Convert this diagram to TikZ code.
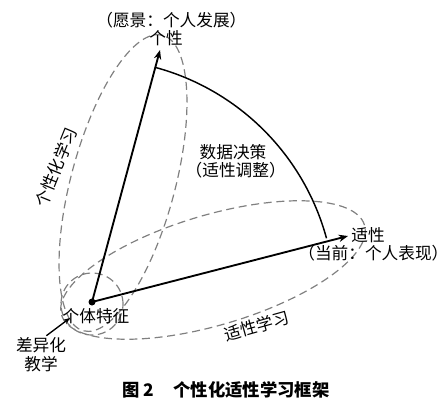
\documentclass[tikz,border=0pt]{standalone}
\usepackage{fontspec}
\newfontfamily\cjk{Noto Sans CJK SC}
\usepackage{tikz}
\usetikzlibrary{positioning}
\usetikzlibrary{arrows.meta}

\begin{document}
\begin{tikzpicture}[x=0.75pt,y=0.75pt,
  quan/.style={draw=gray,line width=0.9pt,dash pattern=on 6pt off 3.5pt},
  jt/.style={-{Stealth[length=7pt,width=5.5pt]},line width=1.4pt},
  wz/.style={font=\cjk\fontsize{12.5}{14}\selectfont,inner sep=1pt},
  kh/.style={font=\cjk\fontsize{12.5}{14}\selectfont,inner sep=0.5pt}]
  \useasboundingbox (0,0) rectangle (448,-403);
  \coordinate (O) at (92,-302);
  \coordinate (T) at (160,-50);
  \coordinate (R) at (348,-236);
  \coordinate (jx) at (70,-318);
  % dashed rings
  \draw[quan,rotate around={75:(123,-183)}] (123,-183) ellipse (153 and 52);
  \draw[quan,rotate around={16.5:(213,-270)}] (213,-270) ellipse (158 and 55);
  \draw[quan] (92,-304) circle (31);
  % arc and axes
  \draw[line width=1.1pt] (O) ++(74.8:243) arc (74.8:15.2:243);
  \draw[jt] (O) -- (T);
  \draw[jt] (O) -- (R);
  \fill (O) circle (3.5);
  % labels
  \node[wz] (gx) at (166,-38) {个性};
  \node[kh,above=0pt of gx,xshift=4] (yj) {（愿景：个人发展）};
  \node[wz] (sx) at (368,-235) {适性};
  \node[kh,below=0pt of sx,xshift=4] (dq) {（当前：个人表现）};
  \node[wz] (sj) at (233,-152) {数据决策};
  \node[kh,below=0pt of sj,xshift=2] (tz) {（适性调整）};
  \node[wz] (gt) at (96,-316) {个体特征};
  \node[wz] (cy) at (41,-345) {差异化};
  \node[wz,below=0pt of cy] (jxue) {教学};
  \node[wz,rotate=68] (gxh) at (56,-167) {个性化学习};
  \node[wz,rotate=15.7] (sxx) at (257,-326) {适性学习};
  \draw[-{Stealth[length=5pt,width=4pt]},line width=1pt] (cy.60) -- (jx);
  \node[font=\cjk\bfseries\fontsize{13}{15}\selectfont] (bt) at (226,-390) {图~2\hspace{1.1em}个性化适性学习框架};
\end{tikzpicture}
\end{document}
